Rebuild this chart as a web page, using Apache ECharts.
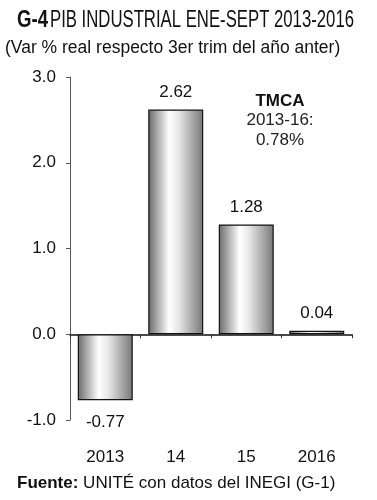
<!DOCTYPE html>
<html><head><meta charset="utf-8">
<script src="https://cdn.jsdelivr.net/npm/echarts@6/dist/echarts.min.js"></script>
<style>html,body{margin:0;padding:0;background:#fff}#c{width:377px;height:500px}</style>
</head><body><div id="c"></div>
<script>
var categories = ['2013', '14', '15', '2016'];
var values = [-0.77, 2.62, 1.28, 0.04];
var valueLabels = ['-0.77', '2.62', '1.28', '0.04'];
var yMin = -1, yMax = 3, yStep = 1;

function measure(text, font) {
  var ctx = document.createElement('canvas').getContext('2d');
  ctx.font = font;
  return ctx.measureText(text).width;
}
var fontA = 'bold 24px "Liberation Sans"';
var fontB = '24px "Liberation Sans"';
var tA = 'G-4', tB = 'PIB INDUSTRIAL ENE-SEPT 2013-2016';
var sA = 31 / measure(tA, fontA);
var sB = 304 / measure(tB, fontB);

var chart = echarts.init(document.getElementById('c'), null, {renderer: 'canvas'});
var grad = new echarts.graphic.LinearGradient(0, 0, 1, 0, [
  {offset: 0, color: '#6a6a6a'},
  {offset: 0.38, color: '#ffffff'},
  {offset: 0.55, color: '#e8e8e8'},
  {offset: 1, color: '#777777'}
]);
var option = {
  animation: false,
  backgroundColor: '#fff',
  graphic: [{
    type: 'text', x: 17, y: 20, scaleX: sA, scaleY: 1,
    style: {text: tA, font: fontA, fill: '#111', textVerticalAlign: 'middle', textAlign: 'left'}
  }, {
    type: 'text', x: 50, y: 20, scaleX: sB, scaleY: 1,
    style: {text: tB, font: fontB, fill: '#111', textVerticalAlign: 'middle', textAlign: 'left'}
  }, {
    type: 'text', x: 5, y: 48,
    style: {text: '(Var % real respecto 3er trim del año anter)', font: '17.5px "Liberation Sans"',
      fill: '#111', textVerticalAlign: 'middle', textAlign: 'left'}
  }, {
    type: 'text', x: 280, y: 101,
    style: {text: 'TMCA', textAlign: 'center', textVerticalAlign: 'middle',
      font: 'bold 17px "Liberation Sans"', fill: '#111'}
  }, {
    type: 'text', x: 280, y: 120,
    style: {text: '2013-16:', textAlign: 'center', textVerticalAlign: 'middle',
      font: '17px "Liberation Sans"', fill: '#222'}
  }, {
    type: 'text', x: 280, y: 140,
    style: {text: '0.78%', textAlign: 'center', textVerticalAlign: 'middle',
      font: '17px "Liberation Sans"', fill: '#222'}
  }, {
    type: 'text', x: 17, y: 483,
    style: {text: 'Fuente:', textAlign: 'left', textVerticalAlign: 'middle',
      font: 'bold 17px "Liberation Sans"', fill: '#111'}
  }, {
    type: 'text', x: 17 + measure('Fuente: ', 'bold 17px "Liberation Sans"'), y: 483,
    style: {text: 'UNITÉ con datos del INEGI (G-1)', textAlign: 'left', textVerticalAlign: 'middle',
      font: '17px "Liberation Sans"', fill: '#111'}
  }],
  grid: {left: 70, right: 25, top: 77, bottom: 80},
  xAxis: [{
    type: 'category', data: categories,
    axisLine: {onZero: true, lineStyle: {color: '#111', width: 1.5}},
    axisTick: {show: true, length: 4, inside: false, lineStyle: {color: '#333'}},
    axisLabel: {show: false}
  }, {
    type: 'category', data: categories, position: 'bottom',
    axisLine: {show: false, onZero: false}, axisTick: {show: false},
    axisLabel: {margin: 29, fontFamily: 'Liberation Sans', fontSize: 17, color: '#111'}
  }],
  yAxis: {
    type: 'value', min: yMin, max: yMax, interval: yStep,
    splitLine: {show: false},
    axisLine: {show: true, lineStyle: {color: '#555'}},
    axisTick: {show: true, length: 4, lineStyle: {color: '#555'}},
    axisLabel: {formatter: function (v) { return v.toFixed(1); }, margin: 14,
      fontFamily: 'Liberation Sans', fontSize: 17, color: '#111'}
  },
  series: [{
    type: 'bar', xAxisIndex: 0, barWidth: '78%',
    data: values.map(function (v) {
      return {value: v, label: {position: v < 0 ? 'bottom' : 'top', distance: v < 0 ? 14 : 9}};
    }),
    itemStyle: {color: grad, borderColor: '#111', borderWidth: 1.2},
    label: {show: true,
      formatter: function (p) { return valueLabels[p.dataIndex]; },
      fontFamily: 'Liberation Sans', fontSize: 17, color: '#111'}
  }]
};
chart.setOption(option);
</script></body></html>
